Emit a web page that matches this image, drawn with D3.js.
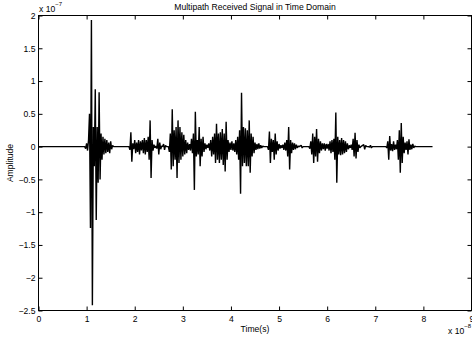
<!DOCTYPE html>
<html><head><meta charset="utf-8">
<script src="https://cdn.jsdelivr.net/npm/d3@7"></script>
<style>
body{margin:0;background:#fff}
svg{display:block}
text{font-family:"Liberation Sans",Arial,Helvetica,sans-serif;fill:#000}
</style>
</head><body>
<svg id="chart" width="472" height="342"></svg>
<script>
// ---- data (time in units of 1e-8 s, amplitude in units of 1e-7) ----
const titleText = "Multipath Received Signal in Time Domain";
const xLabelText = "Time(s)";
const yLabelText = "Amplitude";
const xTicks = [0,1,2,3,4,5,6,7,8,9];
const yTicks = [-2.5,-2,-1.5,-1,-0.5,0,0.5,1,1.5,2];
const xTickLabels = ["0","1","2","3","4","5","6","7","8","9"];
const yTickLabels = ["\u22122.5","\u22122","\u22121.5","\u22121","\u22120.5","0","0.5","1","1.5","2"];
const sampleStep = 0.02;
const signalStart = 0;
const signalEnd = 8.19;
const burstStarts = [0.96, 1.88, 2.70, 4.76, 5.46, 5.62, 6.76, 7.22];
const burstA = [0,-0.03,0.05,-0.06,0.1,0.5,-1.24,1.93,-2.42,0.3,-0.3,0.875,-1.12,0.3,-0.55,0.83,-0.5,0.2,-0.2,0.15,-0.12,0.12,-0.1,0.1,-0.08,0.06,-0.1,0.08,-0.04,0.02,0];
const burstB = [0,-0.05,0.22,-0.23,0.05,-0.04,0.1,-0.1,0.06,-0.08,0.1,-0.12,0.08,-0.06,0.1,-0.1,0.13,-0.12,0.1,-0.08,0.15,-0.2,0.4,-0.48,0.1,-0.06,0.03,-0.02,0.01,-0.03,0.12,-0.12,0.06,-0.04,0.01,0,0.04,-0.05,0.02,0];
const burstC = [0,-0.08,0.2,-0.35,0.57,-0.3,0.25,-0.2,0.3,-0.48,0.4,-0.25,0.3,-0.2,0.22,-0.15,0.18,-0.12,0.1,-0.1,0.06,-0.05,0.04,-0.06,0.12,-0.1,0.2,-0.66,0.53,-0.15,0.1,-0.12,0.3,-0.3,0.12,-0.15,0.15,-0.08,0.05,-0.04,0.03,-0.02,0.05,-0.06,0.1,-0.15,0.15,-0.12,0.2,-0.25,0.35,-0.2,0.2,-0.25,0.22,-0.2,0.27,-0.28,0.2,-0.38,0.38,-0.2,0.1,-0.08,0.06,-0.05,0.08,-0.06,0.05,-0.08,0.1,-0.12,0.15,-0.2,0.25,-0.72,0.82,-0.3,0.3,-0.25,0.28,-0.3,0.25,-0.3,0.4,-0.4,0.2,-0.15,0.15,-0.1,0.06,-0.05,0.04,-0.04,0.05,-0.03,0.02,-0.02,0.01,0,0];
const burstD = [0,-0.05,0.23,-0.25,0.12,-0.08,0.1,-0.2,0.2,-0.12,0.08,-0.06,0.04,-0.03,0.02,-0.02,0.03,-0.05,0.06,-0.06,0.1,-0.15,0.3,-0.35,0.1,-0.1,0.06,-0.05,0.05,-0.04,0.03,-0.02,0.01,0];
const burstE = [0.02,-0.02,0];
const burstF = [0,-0.03,0.08,-0.12,0.2,-0.25,0.15,-0.15,0.27,-0.23,0.12,-0.1,0.08,-0.06,0.05,-0.04,0.05,-0.06,0.04,-0.03,0.04,-0.06,0.08,-0.1,0.1,-0.08,0.12,-0.2,0.52,-0.55,0.15,-0.12,0.1,-0.13,0.13,-0.12,0.1,-0.1,0.08,-0.08,0.05,-0.04,0.02,-0.02,0.03,-0.05,0.12,-0.15,0.21,-0.18,0.1,-0.08,0.03,-0.02,0];
const burstG = [0.03,-0.04,0.02,0,0,0,-0.01,0.02,-0.02,0];
const burstH = [0,-0.02,0.08,-0.2,0.16,-0.06,0.04,-0.07,0.08,-0.05,0.03,-0.04,0.1,-0.2,0.25,-0.4,0.36,-0.25,0.15,-0.1,0.06,-0.05,0.08,-0.12,0.11,-0.05,0.03,-0.04,0.04,-0.02,0.01,0];
const bursts = [burstA, burstB, burstC, burstD, burstE, burstF, burstG, burstH];

(function () {
// ---- build the sampled signal ----
const signal = [[signalStart, 0]];
bursts.forEach((vals, k) => {
  vals.forEach((v, i) => signal.push([burstStarts[k] + i * sampleStep, v]));
});
signal.push([signalEnd, 0]);

// ---- layout ----
const svg = d3.select("#chart");
const pL = 38.5, pR = 471.5, pT = 15.5, pB = 310.5;
const x = d3.scaleLinear().domain([0, 9]).range([pL, pR]);
const y = d3.scaleLinear().domain([-2.5, 2]).range([pB, pT]);

svg.append("rect").attr("width", 472).attr("height", 342).attr("fill", "#fff");

// signal
svg.append("path")
  .datum(signal)
  .attr("fill", "none")
  .attr("stroke", "#000")
  .attr("stroke-width", 1.4)
  .attr("stroke-linejoin", "bevel")
  .attr("d", d3.line().x(d => x(d[0])).y(d => y(d[1])));

// axes
const fs = 8.6;
const gB = svg.append("g").attr("transform", `translate(0,${pB})`)
  .call(d3.axisBottom(x).tickValues(xTicks).tickFormat((d,i)=>xTickLabels[i]).tickSizeInner(-4).tickSizeOuter(0).tickPadding(5));
const gT = svg.append("g").attr("transform", `translate(0,${pT})`)
  .call(d3.axisTop(x).tickValues(xTicks).tickFormat("").tickSizeInner(-4).tickSizeOuter(0));
const gL = svg.append("g").attr("transform", `translate(${pL},0)`)
  .call(d3.axisLeft(y).tickValues(yTicks).tickFormat((d,i)=>yTickLabels[i]).tickSizeInner(-4).tickSizeOuter(0).tickPadding(3));
const gR = svg.append("g").attr("transform", `translate(${pR},0)`)
  .call(d3.axisRight(y).tickValues(yTicks).tickFormat("").tickSizeInner(-4).tickSizeOuter(0));
[gB, gT, gL, gR].forEach(g => {
  g.select(".domain").remove();
  g.selectAll(".tick line").attr("stroke", "#000").attr("stroke-width", 1);
  g.selectAll("text").attr("font-size", fs).attr("fill", "#000")
    .attr("font-family", '"Liberation Sans",Arial,Helvetica,sans-serif');
});
// box
svg.append("rect").attr("x", pL).attr("y", pT).attr("width", pR - pL).attr("height", pB - pT)
  .attr("fill", "none").attr("stroke", "#000").attr("stroke-width", 1);

// title & labels
svg.append("text").attr("x", (pL + pR) / 2).attr("y", 9.5).attr("text-anchor", "middle")
  .attr("font-size", fs).text(titleText);
svg.append("text").attr("x", (pL + pR) / 2).attr("y", 332).attr("text-anchor", "middle")
  .attr("font-size", fs).text(xLabelText);
svg.append("text").attr("transform", `translate(12.8,${(pT + pB) / 2}) rotate(-90)`)
  .attr("text-anchor", "middle").attr("font-size", fs).text(yLabelText);

// exponent multipliers
const m1 = svg.append("text").attr("x", 39).attr("y", 11.8).attr("font-size", fs);
m1.append("tspan").text("x 10");
m1.append("tspan").attr("dy", -5.5).attr("font-size", 6).text("\u22127");
const m2 = svg.append("text").attr("x", 448).attr("y", 333.5).attr("font-size", fs);
m2.append("tspan").text("x 10");
m2.append("tspan").attr("dy", -5.5).attr("font-size", 6).text("\u22128");
})();
</script>
</body></html>
